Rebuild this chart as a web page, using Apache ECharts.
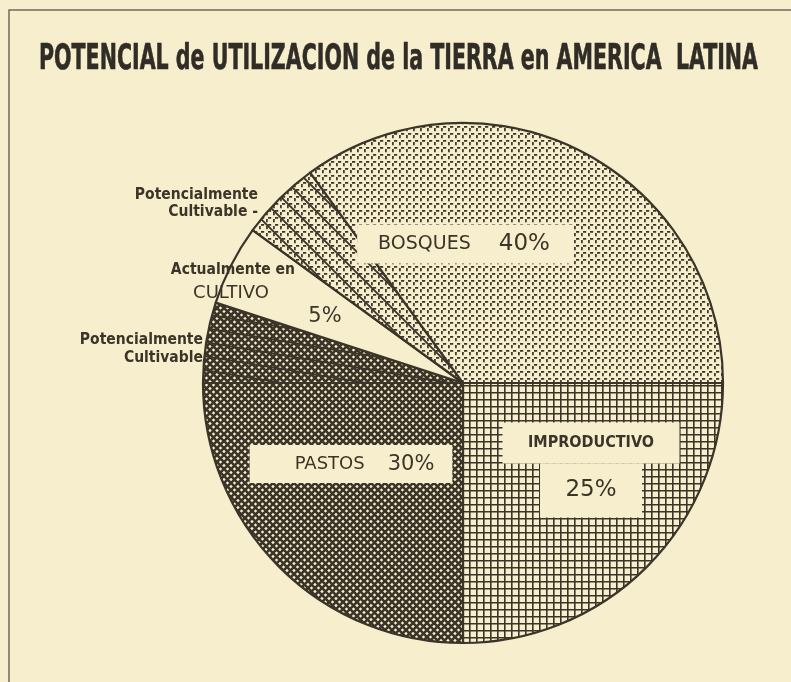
<!DOCTYPE html>
<html>
<head>
<meta charset="utf-8">
<script src="https://cdn.jsdelivr.net/npm/echarts@6/dist/echarts.min.js"></script>
<style>
  html, body { margin: 0; padding: 0; background: #f7eecd; }
  #chart { width: 791px; height: 682px; }
</style>
</head>
<body>
<div id="chart"></div>
<script>
// slices, clockwise from 3 o'clock
const categories = ['IMPRODUCTIVO', 'PASTOS', 'Potencialmente Cultivable (pastos)', 'Actualmente en CULTIVO', 'Potencialmente Cultivable (bosques)', 'BOSQUES']
const shares = [25, 25, 5, 5, 5, 35]
// printed percentages (groups)
const improductivoPct = shares[0]
const pastosPct = shares[1] + shares[2]
const cultivoPct = shares[3]
const bosquesPct = shares[4] + shares[5]

const titleText = 'POTENCIAL de UTILIZACION de la TIERRA en AMERICA  LATINA'

const bg = '#f7eecd'
const ink = '#3b3529'

function tile (w, h, draw) {
  const c = document.createElement('canvas')
  c.width = w
  c.height = h
  const g = c.getContext('2d')
  g.fillStyle = bg
  g.fillRect(0, 0, w, h)
  g.strokeStyle = ink
  draw(g, w, h)
  return c
}
function dots (g, w, h) {
  g.lineWidth = 1.7
  for (let x = 0; x < w; x += 7) {
    for (let y = 0; y < h; y += 7) {
      g.beginPath()
      g.moveTo(x + 2, y + 0.9); g.lineTo(x + 5.2, y + 0.9)
      g.moveTo(x + 0.9, y + 2); g.lineTo(x + 0.9, y + 5.2)
      g.stroke()
    }
  }
}
function cross (g, w, h) {
  g.lineWidth = 2.6
  const s = 7
  for (let x = -w; x < 2 * w; x += s) {
    g.beginPath()
    g.moveTo(x, 0); g.lineTo(x + h, h)
    g.moveTo(x, h); g.lineTo(x + h, 0)
    g.stroke()
  }
}
function slant (g, w, h, lw) {
  g.lineWidth = lw
  g.beginPath()
  for (let k = -1; k <= 1; k++) {
    g.moveTo(-1, k * h - h / w)
    g.lineTo(w + 1, k * h + h + h / w)
  }
  g.stroke()
}

const patGrid = tile(7, 7, g => {
  g.lineWidth = 1.6
  g.beginPath()
  g.moveTo(0.8, 0); g.lineTo(0.8, 7)
  g.moveTo(0, 0.8); g.lineTo(7, 0.8)
  g.stroke()
})
const patCross = tile(7, 7, cross)
const patCrossLines = tile(84, 14, (g, w, h) => { cross(g, w, h); slant(g, w, h, 2) })
const patDots = tile(7, 7, dots)
const patDotsLines = tile(21, 21, (g, w, h) => { dots(g, w, h); slant(g, w, h, 1.9) })
const patterns = [patGrid, patCross, patCrossLines, null, patDotsLines, patDots]

const labelText = [
  '{n|IMPRODUCTIVO}\n{p|' + improductivoPct + '%}',
  '{n|PASTOS}{g|}{p|' + pastosPct + '%}',
  '{s|Potencialmente}\n{s|Cultivable}',
  '{p|' + cultivoPct + '%}',
  '{s|Potencialmente}\n{s|Cultivable -}',
  '{n|BOSQUES}{g|}{p|' + bosquesPct + '%}'
]
// label placement (x, y, align)
const labelPos = [
  [591, 470, 'center'],
  [351, 464, 'center'],
  [203, 349, 'right'],
  [325, 317, 'center'],
  [258, 203, 'right'],
  [465, 244, 'center']
]

const sans = 'DejaVu Sans'
const narrow = '"Liberation Sans Narrow", "DejaVu Sans Condensed", sans-serif'
const richByIndex = [
  {
    n: { fontFamily: 'DejaVu Sans Condensed', fontWeight: 'bold', fontSize: 16, color: ink, backgroundColor: bg, width: 177, height: 41, align: 'center' },
    p: { fontFamily: sans, fontSize: 23, color: ink, backgroundColor: bg, width: 102, height: 54, align: 'center' }
  },
  {
    n: { fontFamily: sans, fontSize: 18, color: ink },
    g: { width: 23 },
    p: { fontFamily: sans, fontSize: 21, color: ink }
  },
  { s: { fontFamily: narrow, fontWeight: 'bold', fontSize: 15.5, lineHeight: 18, color: ink, align: 'right' } },
  { p: { fontFamily: sans, fontSize: 21, color: ink } },
  { s: { fontFamily: narrow, fontWeight: 'bold', fontSize: 15.5, lineHeight: 17, color: ink, align: 'right' } },
  {
    n: { fontFamily: sans, fontSize: 19, color: ink },
    g: { width: 28 },
    p: { fontFamily: sans, fontSize: 23, color: ink }
  }
]
const boxStyle = [
  {},
  { backgroundColor: bg, padding: [9, 18, 8, 45] },
  {},
  {},
  {},
  { backgroundColor: bg, padding: [8, 23, 8, 21] }
]

// squeeze the title into the width it has on the page
const titleFont = 'bold 35px "Liberation Sans Narrow", "DejaVu Sans Condensed", sans-serif'
const mctx = document.createElement('canvas').getContext('2d')
mctx.font = titleFont
const titleScale = 719 / mctx.measureText(titleText).width

const chart = echarts.init(document.getElementById('chart'))
chart.setOption({
  backgroundColor: bg,
  animation: false,
  graphic: [
    {
      type: 'rect',
      z: -1,
      shape: { x: 9, y: 10, width: 900, height: 900 },
      style: { fill: 'none', stroke: '#716a5a', lineWidth: 1.5 }
    },
    {
      type: 'text',
      x: 39,
      y: 42,
      scaleX: titleScale,
      style: {
        text: titleText,
        font: titleFont,
        fill: '#302c26',
        stroke: '#302c26',
        lineWidth: 0.6,
        align: 'left',
        verticalAlign: 'top'
      }
    },
    {
      type: 'text',
      z: 100,
      x: 295,
      y: 270,
      style: {
        text: 'Actualmente en',
        fontFamily: narrow,
        fontWeight: 'bold',
        fontSize: 15.5,
        fill: ink,
        align: 'right',
        verticalAlign: 'middle'
      }
    },
    {
      type: 'text',
      z: 100,
      x: 231,
      y: 293,
      style: {
        text: 'CULTIVO',
        fontFamily: sans,
        fontSize: 18,
        fill: ink,
        align: 'center',
        verticalAlign: 'middle'
      }
    }
  ],
  series: [
    {
      type: 'pie',
      center: [463, 383],
      radius: 260,
      startAngle: 0,
      clockwise: true,
      avoidLabelOverlap: false,
      silent: true,
      itemStyle: { borderColor: ink, borderWidth: 2.2 },
      labelLine: { show: false },
      labelLayout: function (params) {
        const p = labelPos[params.dataIndex]
        return { x: p[0], y: p[1], align: p[2], verticalAlign: 'middle' }
      },
      data: categories.map((name, i) => ({
        name: name,
        value: shares[i],
        itemStyle: { color: patterns[i] ? { image: patterns[i], repeat: 'repeat' } : bg },
        label: Object.assign({
          show: true,
          position: 'inside',
          formatter: labelText[i],
          rich: richByIndex[i]
        }, boxStyle[i])
      }))
    }
  ]
})
</script>
</body>
</html>
